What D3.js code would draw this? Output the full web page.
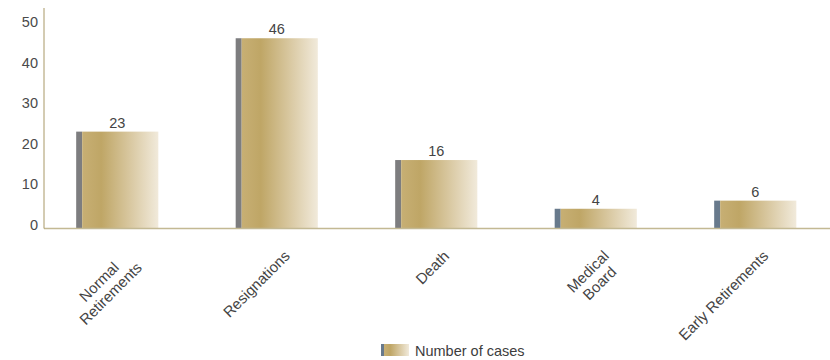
<!DOCTYPE html>
<html>
<head>
<meta charset="utf-8">
<script src="https://cdn.jsdelivr.net/npm/d3@7"></script>
<style>
  html, body { margin: 0; padding: 0; background: #fff; }
  svg { display: block; font-family: "Liberation Sans", Arial, Helvetica, sans-serif; }
</style>
</head>
<body>
<svg id="chart" width="830" height="360"></svg>
<script>
// Exits by category
const categories = ["Normal Retirements", "Resignations", "Death", "Medical Board", "Early Retirements"];
const categoryLines = [["Normal", "Retirements"], ["Resignations"], ["Death"], ["Medical", "Board"], ["Early Retirements"]];
const cases = [23, 46, 16, 4, 6];
const yTicks = [0, 10, 20, 30, 40, 50];
const seriesName = "Number of cases";

const W = 830, H = 360;
const svg = d3.select("#chart");

const x = d3.scaleBand()
  .domain(categories)
  .range([37.5, 835])
  .paddingInner(0.485)
  .paddingOuter(0.2425);

const y = d3.scaleLinear().domain([0, 50]).range([225, 22]);

const axisX = 44;
const baseY = 228.5;
const sideW = 6;
// edge strip colour per bar
const sideColors = ["#7d7d7f", "#7d7d7f", "#7d7d7f", "#687a8c", "#687a8c"];

// face gradient
const defs = svg.append("defs");
const grad = defs.append("linearGradient").attr("id", "face")
  .attr("x1", "0%").attr("x2", "100%").attr("y1", "0%").attr("y2", "0%");
grad.append("stop").attr("offset", "0%").attr("stop-color", "#c7af74");
grad.append("stop").attr("offset", "25%").attr("stop-color", "#bfa666");
grad.append("stop").attr("offset", "62%").attr("stop-color", "#d8c79f");
grad.append("stop").attr("offset", "100%").attr("stop-color", "#f1eadb");

// bars
const bars = svg.append("g").selectAll("g").data(categories).join("g");
bars.append("rect")
  .attr("x", d => x(d))
  .attr("y", (d, i) => y(cases[i]))
  .attr("width", sideW)
  .attr("height", (d, i) => baseY - y(cases[i]))
  .attr("fill", (d, i) => sideColors[i]);
bars.append("rect")
  .attr("x", d => x(d) + sideW)
  .attr("y", (d, i) => y(cases[i]))
  .attr("width", x.bandwidth() - sideW)
  .attr("height", (d, i) => baseY - y(cases[i]))
  .attr("fill", "url(#face)");

// value labels
svg.append("g").selectAll("text").data(categories).join("text")
  .attr("x", d => x(d) + x.bandwidth() / 2)
  .attr("y", (d, i) => y(cases[i]) - 4)
  .attr("text-anchor", "middle")
  .attr("font-size", 14.5)
  .attr("fill", "#444")
  .text((d, i) => cases[i]);

// axes lines
svg.append("line")
  .attr("x1", axisX).attr("x2", W)
  .attr("y1", baseY).attr("y2", baseY)
  .attr("stroke", "#c3b993").attr("stroke-width", 1.6);
svg.append("line")
  .attr("x1", axisX).attr("x2", axisX)
  .attr("y1", 8).attr("y2", baseY)
  .attr("stroke", "#a89866").attr("stroke-width", 1);

// y tick labels
svg.append("g").selectAll("text").data(yTicks).join("text")
  .attr("x", 38)
  .attr("y", d => y(d) + 5)
  .attr("text-anchor", "end")
  .attr("font-size", 14.5)
  .attr("fill", "#4a4a4a")
  .text(d => d);

// category labels, rotated -45deg, lines centred, right end pinned near the bar
const lineH = 16.5;
const labelG = svg.append("g");
categories.forEach((c, i) => {
  const cx = x(c) + x.bandwidth() / 2;
  const g = labelG.append("g")
    .attr("transform", `translate(${cx + 14},${257}) rotate(-45)`);
  const lines = categoryLines[i];
  const texts = lines.map((ln, k) => g.append("text")
    .attr("font-size", 15)
    .attr("fill", "#444")
    .attr("text-anchor", "middle")
    .attr("y", k * lineH)
    .text(ln));
  const maxW = d3.max(texts, t => t.node().getComputedTextLength());
  texts.forEach(t => t.attr("x", -maxW / 2));
});

// legend
const lg = svg.append("g").attr("transform", "translate(381,344)");
lg.append("rect").attr("width", 3).attr("height", 12).attr("fill", "#687a8c");
lg.append("rect").attr("x", 3).attr("width", 25).attr("height", 12).attr("fill", "url(#face)");
lg.append("text")
  .attr("x", 34).attr("y", 11.5)
  .attr("font-size", 14.5)
  .attr("fill", "#3d3d3d")
  .text(seriesName);
</script>
</body>
</html>
